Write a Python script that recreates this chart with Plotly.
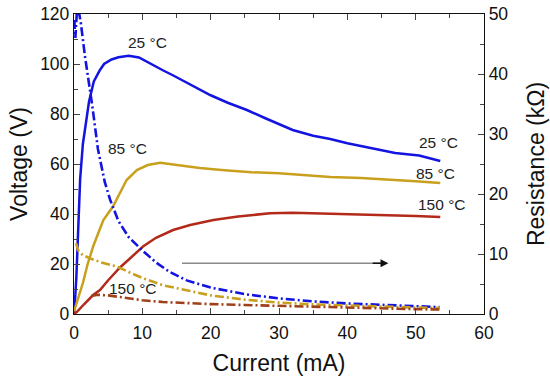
import plotly.graph_objects as go

# ---- data ----
# Voltage (V) vs current (mA), solid lines
v25_x = [0, 0.1, 0.35, 0.6, 0.9, 1.3, 1.9, 2.2, 2.9, 3.8, 4.4, 5.5, 6.5, 8.0, 9.5, 11.7, 13.0, 14.6, 16.5, 18.4, 20, 22.5, 25.3, 28, 30, 32, 35, 37.5, 40, 43, 47, 50.5, 53.6]
v25_y = [0, 3, 15, 35, 54, 68, 80, 85, 93, 97.6, 100, 101.8, 102.7, 103.3, 102.6, 99.3, 97.5, 95.3, 92.5, 89.6, 87.5, 84.5, 81.6, 78.3, 75.8, 73.6, 71.3, 70, 68.3, 66.5, 64.4, 63.4, 61.2]

v85_x = [0, 0.4, 1.3, 2.0, 2.8, 3.5, 4.3, 5.7, 6.7, 7.7, 9.2, 10.8, 12.6, 14, 16, 18.4, 22, 26, 30, 34, 37.5, 42, 46, 50, 53.6]
v85_y = [1, 4.4, 12.4, 20, 27, 32, 37.6, 43, 48.5, 53.6, 57.6, 59.6, 60.5, 60, 59.4, 58.4, 57.5, 56.7, 56.3, 55.5, 54.8, 54.4, 53.6, 53.1, 52.4]

v150_x = [0, 0.4, 1.5, 2.8, 3.8, 5.0, 6.7, 8.5, 10.1, 12, 14.5, 17, 20.4, 24, 28.7, 32, 35, 38.5, 42, 46, 50, 53.6]
v150_y = [0, 0.8, 4.0, 7.6, 9.6, 13.5, 18.5, 23, 27, 30.5, 33.6, 35.6, 37.6, 39.0, 40.3, 40.5, 40.3, 40.2, 39.9, 39.5, 39.2, 38.8]

# Resistance (kOhm) vs current (mA), dash-dot lines
r25_x = [0.05, 0.2, 0.45, 0.7, 1.0, 1.6, 2.7, 3.5, 4.5, 5.3, 6.5, 8.0, 10.1, 12, 14, 16.5, 20, 25, 30, 35, 40, 45, 50, 53.5]
r25_y = [49, 46, 51, 50.5, 48.5, 43, 34.5, 27.5, 22, 19, 15.5, 12.8, 10.5, 8.6, 7.0, 5.6, 4.4, 3.3, 2.6, 2.1, 1.75, 1.5, 1.3, 1.15]

r85_x = [0.3, 0.6, 1.3, 2.5, 4.0, 6.3, 8.0, 10, 13, 16.5, 20, 25, 30, 35, 40, 45, 50, 53.5]
r85_y = [11.8, 10.6, 9.8, 9.2, 8.6, 7.9, 7.0, 6.0, 4.8, 4.0, 3.1, 2.4, 1.9, 1.6, 1.4, 1.2, 1.08, 1.0]

r150_x = [2.5, 3.5, 5.0, 7.0, 10, 13, 16, 20, 25, 30, 35, 40, 45, 50, 53.5]
r150_y = [3.0, 3.2, 3.1, 2.8, 2.3, 2.0, 1.8, 1.65, 1.5, 1.35, 1.15, 1.0, 0.9, 0.8, 0.75]

labels = ["25 °C", "85 °C", "150 °C"]
colors = ["#1414E0", "#C9A01E", "#B32A1A"]
colors_r = ["#1414E0", "#C9A01E", "#A0401A"]

# label positions (data coords, left axis)
label_left_x = [10.8, 7.8, 8.6]
label_left_y = [108.8, 66.4, 10.4]
label_right_x = [53.3, 52.9, 53.9]
label_right_y = [68.8, 56.4, 44.0]

arrow_start = (15.8, 20.3)
arrow_end = (46.0, 20.3)

FONT = "Liberation Sans, Arial, sans-serif"
TICKF = 17.5
TITLEF = 23

fig = go.Figure()
for xs, ys, c in zip([v25_x, v85_x, v150_x], [v25_y, v85_y, v150_y], colors):
    fig.add_trace(go.Scatter(x=xs, y=ys, mode="lines", line=dict(color=c, width=2.5),
                             showlegend=False, yaxis="y"))
for xs, ys, c in zip([r25_x, r85_x, r150_x], [r25_y, r85_y, r150_y], colors_r):
    fig.add_trace(go.Scatter(x=xs, y=ys, mode="lines",
                             line=dict(color=c, width=2.6, dash="9px,3px,2px,3px"),
                             showlegend=False, yaxis="y2"))

ann = []
for t, x, y in zip(labels, label_left_x, label_left_y):
    ann.append(dict(x=x, y=y, xref="x", yref="y", text=t, showarrow=False,
                    font=dict(family=FONT, size=15.5, color="#222")))
for t, x, y in zip(labels, label_right_x, label_right_y):
    ann.append(dict(x=x, y=y, xref="x", yref="y", text=t, showarrow=False,
                    font=dict(family=FONT, size=15.5, color="#222")))

fig.update_layout(
    width=550, height=382,
    margin=dict(l=74, r=66, t=14, b=68),
    paper_bgcolor="white", plot_bgcolor="white",
    font=dict(family=FONT, size=TICKF, color="#111"),
    shapes=[dict(type="line", xref="x", yref="y",
                 x0=arrow_start[0], y0=arrow_start[1], x1=arrow_end[0] - 1.2, y1=arrow_end[1],
                 line=dict(color="#8a8a8a", width=1.5))],
    annotations=ann + [dict(x=arrow_end[0], y=arrow_end[1], ax=arrow_end[0] - 2.5, ay=arrow_end[1],
                            xref="x", yref="y", axref="x", ayref="y", text="", showarrow=True,
                            arrowhead=2, arrowsize=1.2, arrowwidth=1.3, arrowcolor="#111")],
    xaxis=dict(range=[0, 60], dtick=10, ticks="inside", ticklen=6, tickwidth=1.2,
               showline=True, linecolor="#111", linewidth=1.3, mirror="ticks",
               showgrid=False, zeroline=False, automargin=False, ticklabeloverflow="allow",
               ticklabelstandoff=3,
               minor=dict(ticks="inside", dtick=5, ticklen=3.5, tickwidth=1.2, showgrid=False),
               title=dict(text="Current (mA)", font=dict(size=TITLEF), standoff=12),
               tickfont=dict(size=TICKF)),
    yaxis=dict(range=[0, 120], dtick=20, ticks="inside", ticklen=6, tickwidth=1.2,
               showline=True, linecolor="#111", linewidth=1.3,
               showgrid=False, zeroline=False, automargin=False, ticklabeloverflow="allow",
               minor=dict(ticks="inside", dtick=10, ticklen=3.5, tickwidth=1.2, showgrid=False),
               title=dict(text="Voltage (V)", font=dict(size=TITLEF), standoff=6),
               tickfont=dict(size=TICKF)),
    yaxis2=dict(range=[0, 50], dtick=10, overlaying="y", side="right", ticks="inside",
                ticklen=6, tickwidth=1.2, showline=True, linecolor="#111", linewidth=1.3,
                showgrid=False, zeroline=False, automargin=False, ticklabeloverflow="allow",
                minor=dict(ticks="inside", dtick=5, ticklen=3.5, tickwidth=1.2, showgrid=False),
                title=dict(text="Resistance (kΩ)", font=dict(size=TITLEF), standoff=20),
                tickfont=dict(size=TICKF)),
)

fig.write_html("out.html", config={"displayModeBar": False},
               post_script="document.body.style.margin='0';")
